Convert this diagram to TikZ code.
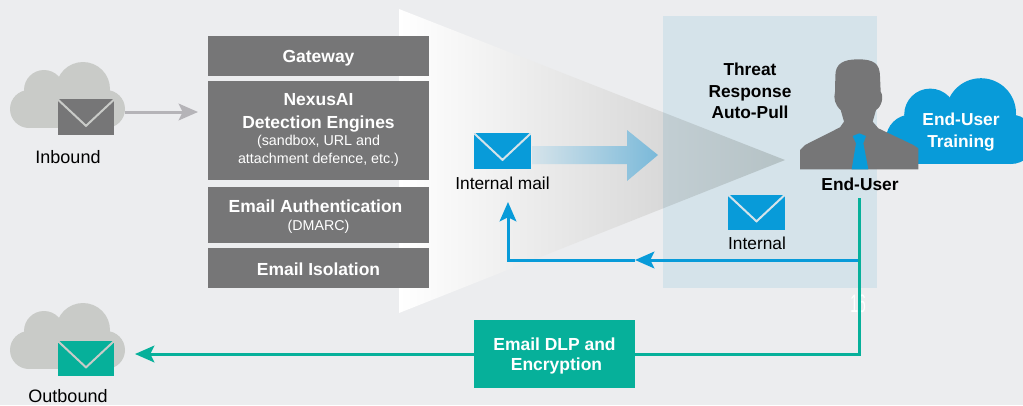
\documentclass[tikz,border=0pt]{standalone}
\usepackage{fontspec}
\setmainfont{Liberation Sans}
\usetikzlibrary{arrows.meta,backgrounds,calc}
\definecolor{pagebg}{HTML}{ECEDEF}
\definecolor{panelblue}{HTML}{D5E3EA}
\definecolor{boxgrey}{HTML}{767677}
\definecolor{cloudgrey}{HTML}{C9CBC8}
\definecolor{linegrey}{HTML}{B5B4B8}
\definecolor{mailblue}{HTML}{089BD9}
\definecolor{mailteal}{HTML}{06B09A}
\definecolor{wedgeleft}{HTML}{C2CED3}
\definecolor{wedgeright}{HTML}{B5C2C5}
\definecolor{arrowright}{HTML}{7AB9D9}
\newcommand{\smalltext}{\fontsize{10.7}{13.5}\selectfont\mdseries}
\tikzstyle{flow}=[
  x=0.75pt,y=-0.75pt,>={Stealth[length=14.5pt,width=12.5pt,inset=3pt]},font=\fontsize{13}{17}\selectfont
]
\tikzstyle{greybox}=[
  fill=boxgrey,text=white,inner sep=0pt,minimum width=165.75pt,align=center,font=\fontsize{13.1}{17}\selectfont\bfseries
]
\tikzstyle{tealbox}=[
  fill=mailteal,text=white,inner sep=0pt,minimum width=120.75pt,minimum height=51pt,align=center,text depth=0pt,font=\fontsize{13.1}{16}\selectfont\bfseries
]
\tikzstyle{mailbox}=[
  fill=#1,inner sep=0pt,minimum width=42.5pt,minimum height=26.5pt
]
\tikzstyle{boldlabel}=[
  inner sep=0pt,align=center,font=\fontsize{13}{16}\selectfont\bfseries
]
\tikzstyle{greyedge}=[
  line width=2.25pt,linegrey
]
\tikzstyle{blueedge}=[
  line width=2.25pt,mailblue
]
\tikzstyle{tealedge}=[
  line width=2.25pt,mailteal
]
\tikzset{
  flap/.style={path picture={
    \draw [#1,line width=1.5pt]
      (path picture bounding box.north west)
      -- ($(path picture bounding box.south)!0.25!(path picture bounding box.north)$)
      -- (path picture bounding box.north east);
  }},
  cloud/.pic={
    \foreach \cx/\cy/\cr in {19/-19/19,34/-38/20,73/-39/27,96/-19/19}
      \fill [#1] (\cx,\cy) circle [radius=\cr];
    \fill [#1] (19,0) rectangle (96,-28);
  }
}
\begin{document}
\begin{tikzpicture}[flow]
    \useasboundingbox (0,0) rectangle (1023,405);
    \begin{scope}[on background layer]
      \fill [pagebg] (0,0) rectangle (1023,405);
      \fill [panelblue] (663,16) rectangle (877,288);
      \begin{scope}
        \clip (399,9) -- (785,160) -- (399,313) -- cycle;
        \shade [left color=white,right color=black!15] (399,0) rectangle (663,320);
        \shade [left color=wedgeleft,right color=wedgeright] (663,0) rectangle (786,320);
      \end{scope}
      \shade [left color=panelblue,right color=arrowright]
        (532,146) -- (627,146) -- (627,130) -- (658,155) -- (627,181) -- (627,164) -- (532,164) -- cycle;
      \pic at (10,128) {cloud=cloudgrey};
      \pic at (10,369) {cloud=cloudgrey};
      \pic at (886,164) [scale=1.3] {cloud=mailblue};
      \node (page) at (858,304) [white,transform shape,xscale=0.55,font=\fontsize{19}{19}\selectfont] {16};
    \end{scope}

    \node (gateway) at (318.5,56) [greybox,minimum height=30pt,text depth=0pt] {Gateway};
    \node (engines) at (318.5,130.5) [greybox,minimum height=74.25pt,text depth=3.5pt] {NexusAI\\[0.75pt]Detection Engines\\[-4.5pt]
      \smalltext (sandbox, URL and\\[-3.75pt]\smalltext attachment defence, etc.)};
    \node (auth) at (318.5,215) [greybox,minimum height=42pt,text depth=0pt] {Email Authentication\hspace*{4.5pt}\\[-3.5pt]
      \smalltext (DMARC)};
    \node (isolation) at (318.5,268) [greybox,minimum height=30pt,text depth=0pt,text height=11pt] {Email Isolation};

    \node (inmail) at (86,117) [mailbox=boxgrey,flap=cloudgrey] {};
    \node (outmail) at (86,358.5) [mailbox=mailteal,flap=cloudgrey] {};
    \node (midmail) at (502.5,151) [mailbox=mailblue,flap=panelblue] {};
    \node (intmail) at (756.5,212.5) [mailbox=mailblue,flap=panelblue] {};

    \node (inlabel) at (68,157) [font=\fontsize{13.5}{17}\selectfont] {Inbound};
    \node (outlabel) at (68,396) [inner sep=0pt,font=\fontsize{13.5}{17}\selectfont] {Outbound};
    \node (midlabel) at (502.5,183) {Internal mail};
    \node (intlabel) at (757,243) {Internal};
    \node (pull) at (750,91) [boldlabel] {Threat\\Response\\Auto-Pull};
    \node (training) at (961,132) [boldlabel,text=white] {End-User\\Training};
    \node (dlp) at (554.5,354) [tealbox] {Email DLP and\\[-0.75pt]\hspace*{3pt}Encryption};

    \fill [boxgrey,shift={(780,50)},x=0.25pt,y=-0.25pt]
      (235,28) .. controls (190,28) and (165,40) .. (166,80) -- (165,125)
      .. controls (160,145) and (165,165) .. (182,180) -- (192,215) -- (180,232)
      -- (75,285) -- (60,300) -- (60,358) -- (415,358) -- (415,295) -- (400,285)
      -- (295,235) -- (278,215) -- (288,180) .. controls (305,170) and (312,140) .. (302,125)
      -- (300,80) .. controls (300,40) and (280,28) .. (235,28) -- cycle;
    \fill [mailblue,shift={(780,50)},x=0.25pt,y=-0.25pt]
      (218,258) -- (238,250) -- (258,258) -- (250,280) -- (265,358) -- (215,358) -- (228,280) -- cycle;
    \node (enduser) at (860,184) [boldlabel] {End-User};

    \coordinate (infrom) at (125,112);
    \coordinate (into) at (198,112);
    \coordinate (junction) at (859,260);
    \coordinate (bluemid) at (635,260);
    \coordinate (bluecorner) at (508,260);
    \coordinate (bluetip) at (508,202);
    \coordinate (tealstart) at (859,198);
    \coordinate (tealcorner) at (859,354);
    \coordinate (tealtip) at (135,354);
    \begin{scope}[on background layer]
      \draw [greyedge,->] (infrom) -- (into);
      \draw [blueedge,->] (junction) -- (bluemid);
      \draw [blueedge,->] (bluemid) -- (bluecorner) -- (bluetip);
      \draw [tealedge] (tealstart) -- (tealcorner) -- (dlp.east);
      \draw [tealedge,->] (dlp.west) -- (tealtip);
    \end{scope}
\end{tikzpicture}
\end{document}
